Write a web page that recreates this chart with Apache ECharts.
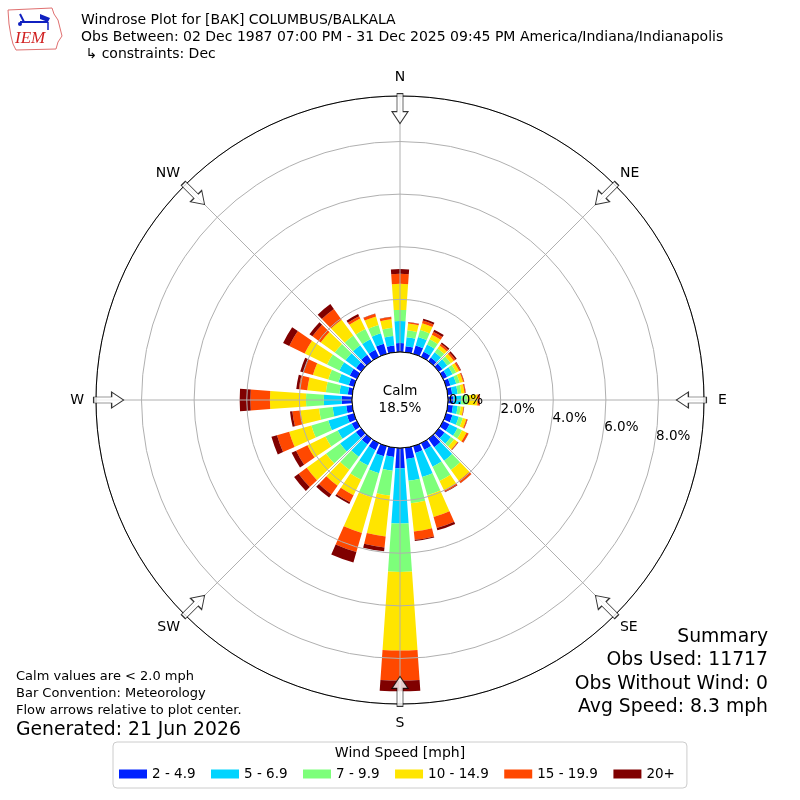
<!DOCTYPE html>
<html><head><meta charset="utf-8">
<script src="https://cdn.jsdelivr.net/npm/echarts@6/dist/echarts.min.js"></script>
<style>html,body{margin:0;padding:0;background:#fff}#c{width:800px;height:800px}</style>
</head><body><div id="c"></div>
<script>
// ---- data ----
const directions = [0,10,20,30,40,50,60,70,80,90,100,110,120,130,140,150,160,170,180,190,200,210,220,230,240,250,260,270,280,290,300,310,320,330,340,350];
const speedBins = ['2 - 4.9','5 - 6.9','7 - 9.9','10 - 14.9','15 - 19.9','20+'];
const binColors = ['#0022ff','#00d4ff','#7dff7a','#ffe500','#ff4800','#800000'];
// percent of observations per direction, per speed bin
const bin2to5   = [0.34,0.23,0.33,0.22,0.17,0.17,0.17,0.17,0.17,0.20,0.20,0.25,0.27,0.27,0.39,0.28,0.27,0.43,0.77,0.35,0.40,0.30,0.27,0.25,0.22,0.27,0.23,0.39,0.17,0.20,0.30,0.24,0.30,0.30,0.40,0.26];
const bin5to7   = [0.84,0.34,0.34,0.30,0.25,0.23,0.23,0.23,0.21,0.30,0.18,0.25,0.34,0.30,0.64,0.72,0.95,0.83,2.10,0.53,0.67,0.65,0.57,0.74,0.59,0.74,0.52,0.68,0.32,0.41,0.44,0.50,0.45,0.44,0.41,0.36];
const bin7to10  = [0.42,0.27,0.27,0.22,0.18,0.16,0.15,0.14,0.14,0.25,0.12,0.16,0.19,0.15,0.44,0.60,0.72,0.86,1.84,0.95,0.95,0.60,0.61,0.66,0.52,0.67,0.52,0.68,0.52,0.40,0.52,0.50,0.45,0.44,0.33,0.32];
const bin10to15 = [0.99,0.26,0.27,0.20,0.14,0.14,0.13,0.13,0.12,0.37,0.10,0.14,0.19,0.16,0.50,0.40,0.86,1.08,2.99,1.56,1.41,0.65,0.76,0.91,0.76,0.88,0.71,1.37,0.71,0.61,0.95,0.66,0.75,0.44,0.34,0.32];
const bin15to20 = [0.38,0.05,0.11,0.12,0.08,0.08,0.06,0.04,0.04,0.08,0.02,0.04,0.08,0.03,0.11,0.06,0.44,0.32,1.14,0.42,0.76,0.30,0.40,0.38,0.48,0.48,0.31,0.74,0.32,0.36,0.65,0.39,0.50,0.10,0.11,0.09];
const bin20plus = [0.18,0.01,0.07,0.09,0.06,0.06,0.02,0.01,0.01,0.02,0.01,0.01,0.01,0.01,0.01,0.02,0.09,0.04,0.41,0.15,0.41,0.07,0.15,0.21,0.19,0.22,0.09,0.41,0.10,0.14,0.26,0.14,0.23,0.09,0.01,0.01];
const calmPct = 18.5;
const ringTicks = [0,2,4,6,8];
const compassAngles = [0,45,90,135,180,225,270,315];
const compassNames = ['N','NE','E','SE','S','SW','W','NW'];
const radiusMax = 9.73;

const binValues = [bin2to5, bin5to7, bin7to10, bin10to15, bin15to20, bin20plus];
const FONT = 'DejaVu Sans';

const chart = echarts.init(document.getElementById('c'), null, {renderer:'canvas', width:800, height:800});

const barSeries = speedBins.map((name, i) => ({
  name, type:'bar', coordinateSystem:'polar', polarIndex:1, stack:'rose',
  data: binValues[i], barCategoryGap:'20%', itemStyle:{color: binColors[i]}, z:2, silent:true
}));

const richBase = {fontSize:14, fontFamily:FONT, color:'#000'};
const option = {
  animation:false,
  backgroundColor:'#fff',
  textStyle:{fontFamily:FONT},
  polar:[
    {center:[400,400], radius:[48,304]},
    {center:[400,400], radius:[48,304]}
  ],
  angleAxis:[
    {polarIndex:0, type:'value', min:0, max:360, interval:45, startAngle:90, clockwise:true, z:4,
     axisLine:{show:true, lineStyle:{color:'#000', width:1}},
     axisTick:{show:false},
     splitLine:{show:true, lineStyle:{color:'#b0b0b0', width:1}},
     axisLabel:{show:true, margin:7,
       formatter: v => { const i = Math.round(v/45); if (i >= 8) return ''; return '{' + (i%2===0 ? 'c'+i : 'd') + '|' + compassNames[i] + '}'; },
       rich:{
         c0:Object.assign({padding:[0,0,5,0]}, richBase),
         c2:Object.assign({padding:[0,0,0,7]}, richBase),
         c4:Object.assign({padding:[5,0,0,0]}, richBase),
         c6:Object.assign({padding:[0,5,0,0]}, richBase),
         d:Object.assign({}, richBase)
       }}
    },
    {polarIndex:1, type:'category', data:directions, startAngle:95, clockwise:true, boundaryGap:true, show:false,
     axisLine:{show:false}, axisTick:{show:false}, axisLabel:{show:false}, splitLine:{show:false}}
  ],
  radiusAxis:[
    {polarIndex:0, type:'value', min:0, max:radiusMax, interval:2, z:3,
     axisLine:{show:false}, axisTick:{show:false}, axisLabel:{show:false},
     splitLine:{show:true, lineStyle:{color:'#b0b0b0', width:1}}},
    {polarIndex:1, type:'value', min:0, max:radiusMax, show:false,
     axisLine:{show:false}, axisTick:{show:false}, axisLabel:{show:false}, splitLine:{show:false}}
  ],
  legend:{
    data:speedBins, left:113, top:742, orient:'horizontal', selectedMode:false,
    itemWidth:28, itemHeight:9, itemGap:15.5, icon:'rect',
    padding:[25,12,7,6], borderColor:'#cccccc', borderWidth:1, borderRadius:4,
    textStyle:{fontSize:13.5, color:'#000', fontFamily:FONT}
  },
  series: barSeries.concat([
    {type:'pie', center:[400,400], radius:[0,48], z:4, silent:true, animation:false,
     data:[{value:calmPct, name:'Calm'}],
     itemStyle:{color:'#fff', borderColor:'#000', borderWidth:1},
     label:{show:true, position:'center', formatter: p => 'Calm\n' + p.value.toFixed(1) + '%', fontSize:13.5, lineHeight:17, color:'#000', fontFamily:FONT},
     labelLine:{show:false}, emphasis:{disabled:true}},
    {type:'scatter', coordinateSystem:'polar', polarIndex:0, z:5, silent:true,
     symbol:'path://M8 0 L16 12 L11 12 L11 30 L5 30 L5 12 L0 12 Z', symbolSize:[16,30],
     itemStyle:{color:'#fff', borderColor:'#000', borderWidth:1},
     data: compassAngles.map(a => ({value:[9.25, a], symbolRotate:180 - a}))},
    {type:'scatter', coordinateSystem:'polar', polarIndex:0, z:6, silent:true,
     symbol:'circle', symbolSize:1, itemStyle:{color:'rgba(0,0,0,0)'},
     data: ringTicks.map(t => [t, 100]),
     label:{show:true, position:'right', distance:1, offset:[0,-8], formatter: p => p.value[0].toFixed(1) + '%',
       fontSize:13.5, color:'#000', opacity:1, fontFamily:FONT}}
  ]),
  graphic:[
    {type:'text', x:81, y:12, style:{text:'Windrose Plot for [BAK] COLUMBUS/BALKALA\nObs Between: 02 Dec 1987 07:00 PM - 31 Dec 2025 09:45 PM America/Indiana/Indianapolis\n \u21b3 constraints: Dec', font:'14px "DejaVu Sans"', lineHeight:17, fill:'#000'}},
    {type:'text', x:16, y:668, style:{text:'Calm values are < 2.0 mph\nBar Convention: Meteorology\nFlow arrows relative to plot center.', font:'13px "DejaVu Sans"', lineHeight:17, fill:'#000'}},
    {type:'text', x:16, y:721, style:{text:'Generated: 21 Jun 2026', font:'18.8px "DejaVu Sans"', fill:'#000'}},
    {type:'text', x:768, y:625, style:{text:'Summary\nObs Used: 11717\nObs Without Wind: 0\nAvg Speed: 8.3 mph', font:'18.8px "DejaVu Sans"', lineHeight:23.5, fill:'#000', align:'right'}},
    {type:'text', x:400, y:746, style:{text:'Wind Speed [mph]', font:'14px "DejaVu Sans"', fill:'#000', align:'center'}},
    // IEM logo
    {type:'polyline', shape:{points:[[8,10],[52,8],[54,14],[58,20],[60,28],[62,36],[58,42],[56,49],[16,50],[13,44],[11,36],[9,24],[8,10]]}, style:{stroke:'#e07070', lineWidth:1, fill:'none'}},
    {type:'line', shape:{x1:20, y1:22, x2:48, y2:22}, style:{stroke:'#1020c0', lineWidth:2}},
    {type:'line', shape:{x1:20, y1:14, x2:24, y2:22}, style:{stroke:'#1020c0', lineWidth:2}},
    {type:'polygon', shape:{points:[[40,14],[50,18],[48,22],[40,19]]}, style:{fill:'#1020c0'}},
    {type:'line', shape:{x1:48, y1:22, x2:48, y2:30}, style:{stroke:'#1020c0', lineWidth:1.5}},
    {type:'circle', shape:{cx:20, cy:24, r:2}, style:{fill:'#1020c0'}},
    {type:'text', x:15, y:30, style:{text:'IEM', font:'italic 17px "Liberation Serif"', fill:'#d02020'}}
  ]
};
chart.setOption(option);
</script>
</body></html>
